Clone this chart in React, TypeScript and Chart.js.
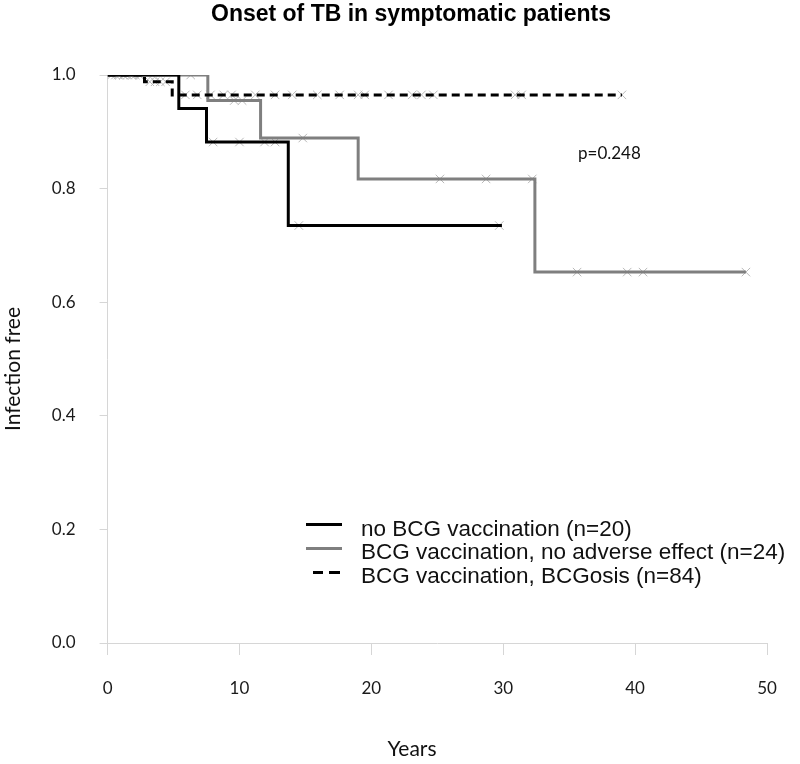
import React, { useEffect, useRef } from "react";
import { Chart, registerables } from "chart.js";

Chart.register(...registerables);

const TITLE = "Onset of TB in symptomatic patients";
const X_TITLE = "Years";
const Y_TITLE = "Infection free";
const P_VALUE = "p=0.248";
const X_TICKS = [0, 10, 20, 30, 40, 50];
const Y_TICKS = [0, 0.2, 0.4, 0.6, 0.8, 1.0];

const SERIES_LABELS = [
  "no BCG vaccination (n=20)",
  "BCG vaccination, no adverse effect (n=24)",
  "BCG vaccination, BCGosis (n=84)",
];

// Kaplan-Meier steps: time of event, survival after event
const noBcgTimes = [0, 5.4, 7.5, 13.7, 29.9];
const noBcgSurv = [1.0, 0.941, 0.882, 0.735, 0.735];
const bcgNoAeTimes = [0, 7.6, 11.6, 19.0, 32.4, 48.4];
const bcgNoAeSurv = [1.0, 0.955, 0.889, 0.817, 0.653, 0.653];
const bcgosisTimes = [0, 2.8, 4.9, 39.0];
const bcgosisSurv = [1.0, 0.988, 0.965, 0.965];

// Censored observations
const noBcgCensTimes = [0.8, 1.9, 3.4, 8.0, 10.0, 11.9, 12.7, 14.5, 29.7];
const bcgNoAeCensTimes = [1.2, 2.5, 6.3, 9.6, 10.2, 14.8, 25.2, 28.7, 32.2, 35.6, 39.4, 40.6, 48.4];
const bcgosisCensTimes = [
  0.3, 0.6, 0.9, 1.2, 1.5, 1.8, 2.1, 2.4, 3.2, 3.6, 4.0, 4.4, 5.9, 6.8, 7.8, 8.8, 9.4, 11.2,
  12.7, 14.0, 15.9, 17.6, 19.0, 19.5, 21.3, 23.1, 23.8, 24.7, 30.9, 31.4, 39.0,
];

function stepPoints(times: number[], surv: number[]) {
  return times.map((t, i) => ({ x: t, y: surv[i] }));
}

function survAt(times: number[], surv: number[], t: number) {
  let s = surv[0];
  for (let i = 0; i < times.length; i++) {
    if (times[i] <= t) s = surv[i];
  }
  return s;
}

function censPoints(cens: number[], times: number[], surv: number[]) {
  return cens.map((t) => ({ x: t, y: survAt(times, surv, t) }));
}

const TICK_FONT = { family: "Lato, 'Open Sans', sans-serif", size: 17 };
const AXIS_COLOR = "#d6d6d6";

export default function App() {
  const ref = useRef<HTMLCanvasElement | null>(null);

  useEffect(() => {
    if (!ref.current) return;
    const censStyle = {
      showLine: false,
      pointStyle: "crossRot" as const,
      pointRadius: 6,
      pointBorderWidth: 1,
      pointBorderColor: "#b9b9b9",
      pointBackgroundColor: "#b9b9b9",
      order: 10,
    };
    const chart = new Chart(ref.current, {
      type: "scatter",
      data: {
        datasets: [
          {
            label: SERIES_LABELS[0],
            data: stepPoints(noBcgTimes, noBcgSurv),
            showLine: true,
            stepped: "before",
            borderColor: "#000000",
            borderWidth: 3,
            pointRadius: 0,
            order: 2,
          },
          {
            label: SERIES_LABELS[1],
            data: stepPoints(bcgNoAeTimes, bcgNoAeSurv),
            showLine: true,
            stepped: "before",
            borderColor: "#7f7f7f",
            borderWidth: 3,
            pointRadius: 0,
            order: 3,
          },
          {
            label: SERIES_LABELS[2],
            data: stepPoints(bcgosisTimes, bcgosisSurv),
            showLine: true,
            stepped: "before",
            borderColor: "#000000",
            borderWidth: 3,
            borderDash: [8, 5],
            pointRadius: 0,
            order: 1,
          },
          { label: "c1", data: censPoints(noBcgCensTimes, noBcgTimes, noBcgSurv), ...censStyle },
          { label: "c2", data: censPoints(bcgNoAeCensTimes, bcgNoAeTimes, bcgNoAeSurv), ...censStyle },
          { label: "c3", data: censPoints(bcgosisCensTimes, bcgosisTimes, bcgosisSurv), ...censStyle },
        ] as any,
      },
      options: {
        responsive: false,
        animation: false,
        layout: { padding: { left: 0, right: 33, top: 75, bottom: 0 } },
        plugins: {
          legend: { display: false },
          title: { display: false },
          tooltip: { enabled: false },
        },
        scales: {
          x: {
            type: "linear",
            min: 0,
            max: 50,
            afterFit: (s: any) => {
              s.height = 121;
            },
            afterBuildTicks: (s: any) => {
              s.ticks = X_TICKS.map((v) => ({ value: v }));
            },
            ticks: {
              font: TICK_FONT,
              color: "#1a1a1a",
              padding: 23,
              maxRotation: 0,
              callback: (v: any) => String(v),
            },
            grid: {
              drawOnChartArea: false,
              drawTicks: true,
              tickLength: 12,
              color: AXIS_COLOR,
            },
            border: { color: AXIS_COLOR, width: 1 },
            title: { display: false },
          },
          y: {
            type: "linear",
            min: 0,
            max: 1,
            afterFit: (s: any) => {
              s.width = 107.6;
            },
            afterBuildTicks: (s: any) => {
              s.ticks = Y_TICKS.map((v) => ({ value: v }));
            },
            ticks: {
              font: TICK_FONT,
              color: "#1a1a1a",
              padding: 24,
              callback: (v: any) => Number(v).toFixed(1),
            },
            grid: {
              drawOnChartArea: false,
              drawTicks: true,
              tickLength: 8,
              color: AXIS_COLOR,
            },
            border: { color: AXIS_COLOR, width: 1 },
            title: { display: false },
          },
        },
      } as any,
    });
    return () => chart.destroy();
  }, []);

  const legendText: React.CSSProperties = {
    position: "absolute",
    left: 361,
    fontFamily: "'Liberation Sans', Arial, sans-serif",
    fontSize: 22.5,
    lineHeight: "24px",
    color: "#111",
    whiteSpace: "nowrap",
  };

  const axisTitle: React.CSSProperties = {
    position: "absolute",
    fontFamily: "Lato, 'Open Sans', sans-serif",
    fontSize: 21,
    lineHeight: "24px",
    color: "#111",
    whiteSpace: "nowrap",
    textAlign: "center",
  };

  return (
    <div
      style={{
        position: "fixed",
        left: 0,
        top: 0,
        width: 800,
        height: 764,
        background: "#fff",
      }}
    >
      <canvas ref={ref} width={800} height={764} style={{ position: "absolute", left: 0, top: 0 }} />
      <div
        style={{
          position: "absolute",
          left: 0,
          width: 822,
          top: 0,
          textAlign: "center",
          fontFamily: "'Liberation Sans', Arial, sans-serif",
          fontWeight: "bold",
          fontSize: 23,
          lineHeight: "26px",
          color: "#000",
        }}
      >
        {TITLE}
      </div>
      <div
        style={{
          position: "absolute",
          left: 578,
          top: 143,
          fontFamily: "Lato, 'Open Sans', sans-serif",
          fontSize: 17,
          lineHeight: "20px",
          color: "#111",
        }}
      >
        {P_VALUE}
      </div>
      {/* axis titles */}
      <div style={{ ...axisTitle, left: 312, width: 200, top: 736 }}>{X_TITLE}</div>
      <div
        style={{
          ...axisTitle,
          left: 12 - 100,
          width: 200,
          top: 369 - 12,
          transform: "rotate(-90deg)",
          transformOrigin: "50% 50%",
        }}
      >
        {Y_TITLE}
      </div>
      {/* legend */}
      <div style={{ position: "absolute", left: 306, top: 523, width: 36, height: 3, background: "#000" }} />
      <div style={{ ...legendText, top: 517 }}>{SERIES_LABELS[0]}</div>
      <div style={{ position: "absolute", left: 306, top: 547, width: 36, height: 3, background: "#7f7f7f" }} />
      <div style={{ ...legendText, top: 540 }}>{SERIES_LABELS[1]}</div>
      <div style={{ position: "absolute", left: 313, top: 571, width: 10, height: 3, background: "#000" }} />
      <div style={{ position: "absolute", left: 329, top: 571, width: 11, height: 3, background: "#000" }} />
      <div style={{ ...legendText, top: 564 }}>{SERIES_LABELS[2]}</div>
    </div>
  );
}
